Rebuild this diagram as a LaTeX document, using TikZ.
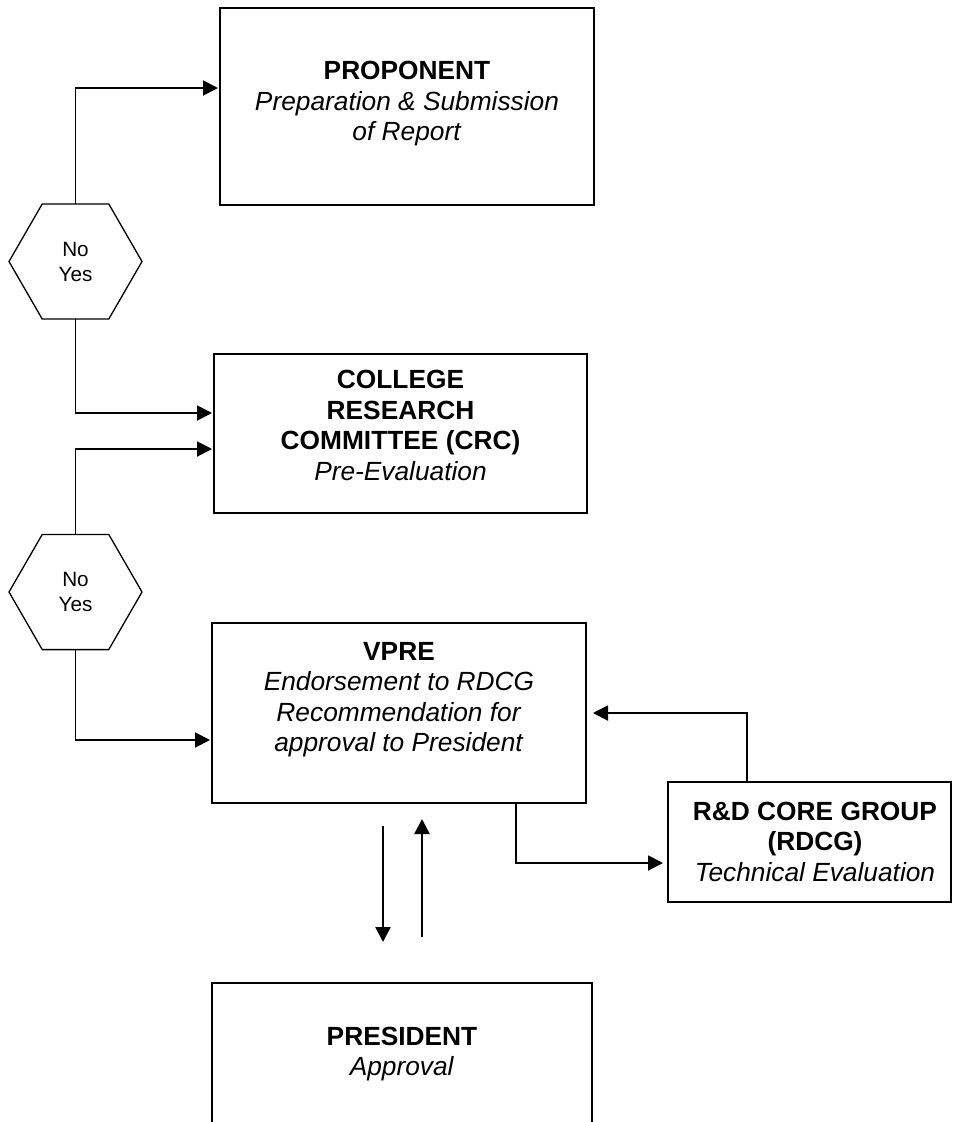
\documentclass[tikz,border=0pt]{standalone}
\usepackage{fontspec}
\setmainfont{Liberation Sans}
\usetikzlibrary{arrows.meta,shapes.geometric}
\tikzset{
  box/.style={draw, line width=1.9pt, rectangle, inner sep=0pt, outer sep=0pt},
  ttl/.style={inner sep=0pt, outer sep=0pt, align=center, anchor=north, font=\fontsize{26.3pt}{30.5pt}\selectfont},
  hexa/.style={draw, line width=1.3pt, regular polygon, regular polygon sides=6, minimum size=133pt, inner sep=0pt, outer sep=0pt, align=center, font=\fontsize{20.7pt}{25pt}\selectfont},
  conn/.style={line width=1.9pt, -{Triangle[length=15pt,width=15pt]}},
  conntwo/.style={line width=2.4pt, -{Triangle[length=15pt,width=15pt]}}
}
\begin{document}
\begin{tikzpicture}[x=1pt,y=-1pt]
\path[use as bounding box, clip] (0,0) rectangle (953,1122);
\fill[white] (0,0) rectangle (953,1122);

% boxes
\node[box, minimum width=374pt, minimum height=197pt] (prop) at (407,106.5) {};
\node[box, minimum width=373pt, minimum height=159pt] (crc) at (400.5,433.5) {};
\node[box, minimum width=374pt, minimum height=180pt] (vpre) at (399,713) {};
\node[box, minimum width=283pt, minimum height=120pt] (rdcg) at (809.5,842) {};
\node[box, minimum width=380pt, minimum height=157pt] (pres) at (402,1061.5) {};

% box texts
\node[ttl] (propt) at (407,61.5) {\textbf{PROPONENT}\\\textit{Preparation \& Submission}\\\textit{of Report}};
\node[ttl, font=\fontsize{26.3pt}{30.8pt}\selectfont] (crct) at (400.5,370) {\textbf{COLLEGE}\\\textbf{RESEARCH}\\\textbf{COMMITTEE (CRC)}\\\textit{Pre-Evaluation}};
\node[ttl] (vpret) at (399,642) {\textbf{VPRE}\\\textit{Endorsement to RDCG}\\\textit{Recommendation for}\\\textit{approval to President}};
\node[ttl] (rdcgt) at (815,802) {\textbf{R\&D CORE GROUP}\\\textbf{(RDCG)}\\\textit{Technical Evaluation}};
\node[ttl] (prest) at (402,1027) {\textbf{PRESIDENT}\\\textit{Approval}};

% decision hexagons
\node[hexa] (h1) at (75.5,261.5) {No\\Yes};
\node[hexa] (h2) at (75.5,592) {No\\Yes};

% helper coordinates
\coordinate (p1) at (0,88);
\coordinate (c1) at (0,413);
\coordinate (c2) at (0,449);
\coordinate (c3) at (0,740);
\coordinate (r1) at (747,0);
\coordinate (r2) at (516,863);
\coordinate (dn) at (383,0);
\coordinate (up) at (422,0);

% connectors
\draw[conn, shorten >=2pt] (h1.north) |- (prop.west |- p1);
\draw[conn, shorten >=2pt] (h1.south) |- (crc.west |- c1);
\draw[conn, shorten >=2pt] (h2.north) |- (crc.west |- c2);
\draw[conn, shorten >=2pt] (h2.south) |- (vpre.west |- c3);
\draw[conn, shorten >=7pt] (rdcg.north -| r1) |- (vpre.east);
\draw[conn, shorten >=5pt] (vpre.south -| r2) |- (rdcg.west |- r2);
\draw[conntwo, shorten <=23pt, shorten >=41pt] (vpre.south -| dn) -- (pres.north -| dn);
\draw[conntwo, shorten <=46pt, shorten >=16pt] (pres.north -| up) -- (vpre.south -| up);
\end{tikzpicture}
\end{document}
